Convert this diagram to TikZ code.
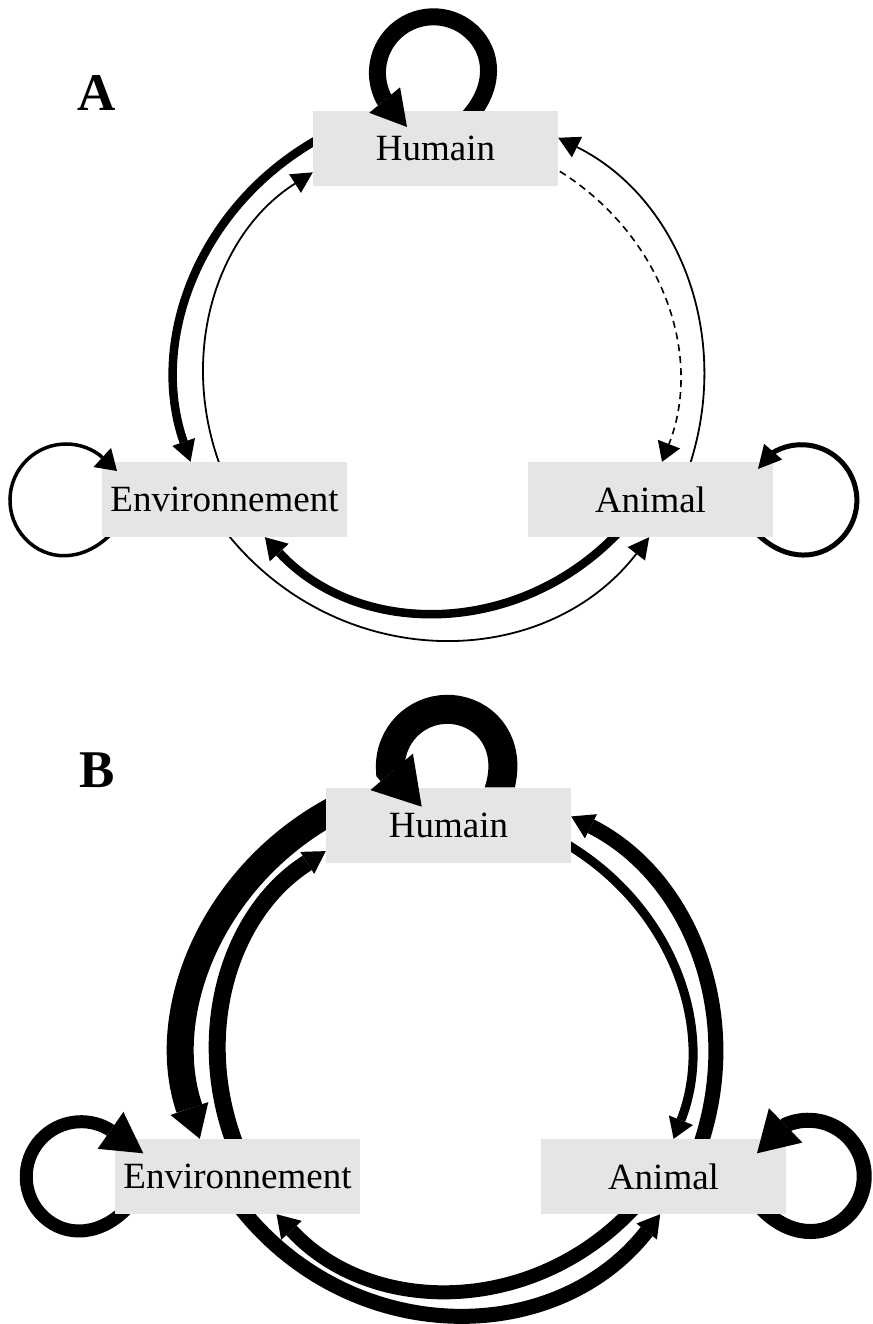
\documentclass[tikz,border=0pt]{standalone}
\usepackage{fontspec}
\setmainfont{Liberation Serif}
\usetikzlibrary{arrows.meta,backgrounds}
\definecolor{boxgray}{RGB}{229,229,229}
\begin{document}
\begin{tikzpicture}[x=1pt,y=1pt,
  box/.style={fill=boxgray, minimum width=245pt, minimum height=75pt, inner sep=0pt,
    font=\fontsize{37}{44}\selectfont},
  panel/.style={font=\bfseries\fontsize{53}{60}\selectfont, inner sep=0pt},
  conn/.style={draw=black, line cap=butt, shorten <=-10pt},
  ahead/.style args={#1/#2}{-{Triangle[length=#1pt,width=#2pt,line width=0pt]}},
]
\useasboundingbox (0,0) rectangle (872,-1324);

% ---------- nodes ----------
\node[box] (hA) at (435.5,-148.5) {Humain};
\node[box] (eA) at (224.5,-499.5) {Environnement};
\node[box] (aA) at (650.5,-499.5) {Animal};
\node[box] (hB) at (448.5,-825) {Humain};
\node[box] (eB) at (237.5,-1176.5) {Environnement};
\node[box] (aB) at (663.5,-1176.5) {Animal};
\node[panel] (lA) at (97,-93.5) {A};
\node[panel] (lB) at (97.5,-770.5) {B};

% loop arrow tips
\coordinate (tipHA) at (407,-127);
\coordinate (tipEA) at (117,-471);
\coordinate (tipAA) at (758,-469);
\coordinate (tipHB) at (421.7,-806.7);
\coordinate (tipEB) at (143.3,-1153.3);
\coordinate (tipAB) at (757,-1153.3);

% ---------- arcs between nodes (under the boxes) ----------
\begin{pgfonlayer}{background}
% panel A
\draw[conn, line width=8.5pt, ahead=21/24] (hA.177.1) to[out=208.6,in=109.2,looseness=0.966] (eA.132.9);
\draw[conn, line width=1.8pt, ahead=21/22] (eA.99.1) to[out=111.4,in=212.3,looseness=0.962] (hA.191.6);
\draw[conn, line width=1.8pt, ahead=21/23] (aA.43.3) to[out=70.8,in=333.6,looseness=0.973] (hA.5.0);
\draw[conn, line width=1.6pt, dash pattern=on 7pt off 5pt, ahead=19/24] (hA.350.8) to[out=330.3,in=68.6,looseness=0.97] (aA.73.7);
\draw[conn, line width=8.5pt, ahead=21/26] (aA.226.1) to[out=227.1,in=312.9,looseness=1.013] (eA.317.6);
\draw[conn, line width=1.8pt, ahead=21/22] (eA.278.8) to[out=307.7,in=232.3,looseness=1.057] (aA.268.8);
% panel B
\draw[conn, line width=27pt, ahead=32/40] (hB.175.8) to[out=208.3,in=108.9,looseness=0.966] (eB.135.4);
\draw[conn, line width=17pt, ahead=22/26] (eB.97.6) to[out=111.5,in=212.4,looseness=0.962] (hB.192.4);
\draw[conn, line width=15pt, ahead=22/27] (aB.44.0) to[out=70.8,in=333.4,looseness=0.973] (hB.4.3);
\draw[conn, line width=9pt, ahead=20/26] (hB.350.05) to[out=330.1,in=68.5,looseness=0.97] (aB.75.1);
\draw[conn, line width=14pt, ahead=22/28] (aB.227.1) to[out=227.3,in=312.7,looseness=1.015] (eB.316.7);
\draw[conn, line width=15pt, ahead=22/26] (eB.282.5) to[out=308.0,in=232.0,looseness=1.054] (aB.265.0);
\end{pgfonlayer}

% ---------- self loops (over the boxes) ----------
\begin{scope}[even odd rule]
\clip (0,0) rectangle (872,-1324) (hA.north) rectangle (hA.south east);
\draw[conn, line width=17pt, ahead=35/40] (hA.44.2) arc[start angle=-42.75, end angle=208.4, radius=56pt] -- (tipHA);
\end{scope}
\begin{scope}[even odd rule]
\clip (0,0) rectangle (872,-1324) (eA.west) rectangle (eA.south east);
\draw[conn, line width=3.5pt, ahead=20/26] (eA.198.6) arc[start angle=-41.2, end angle=-306.4, radius=56.2pt] -- (tipEA);
\end{scope}
\begin{scope}[even odd rule]
\clip (0,0) rectangle (872,-1324) (aA.south west) rectangle (aA.east);
\draw[conn, line width=5pt, ahead=23/24] (aA.341.8) arc[start angle=-138.2, end angle=122.3, radius=55.5pt] -- (tipAA);
\end{scope}
\begin{scope}[even odd rule]
\clip (0,0) rectangle (872,-1324) (hB.north) rectangle (hB.south east);
\draw[conn, line width=29pt, ahead=46/56] (hB.36.3) arc[start angle=-21.6, end angle=184.2, radius=57pt] -- (tipHB);
\end{scope}
\begin{scope}[even odd rule]
\clip (0,0) rectangle (872,-1324) (eB.west) rectangle (eB.south east);
\draw[conn, line width=13pt, ahead=40/45] (eB.198.35) arc[start angle=-43, end angle=-299.4, radius=55pt] -- (tipEB);
\end{scope}
\begin{scope}[even odd rule]
\clip (0,0) rectangle (872,-1324) (aB.south west) rectangle (aB.east);
\draw[conn, line width=15pt, ahead=40/48] (aB.340.07) arc[start angle=-137.3, end angle=113, radius=56pt] -- (tipAB);
\end{scope}
\end{tikzpicture}
\end{document}
